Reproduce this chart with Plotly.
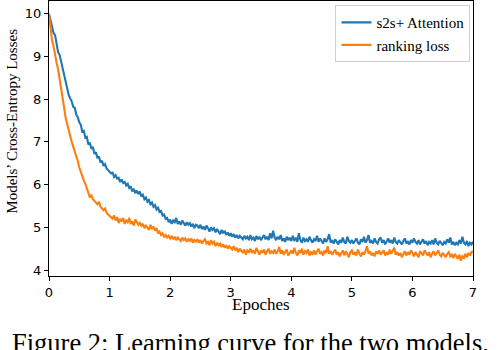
import plotly.graph_objects as go

s2s_attention = [
    10.00, 9.86, 9.74, 9.55, 9.50, 9.28, 9.10, 9.04, 8.88, 8.72,
    8.58, 8.42, 8.30, 8.10, 8.02, 7.95, 7.82, 7.80, 7.64, 7.58,
    7.46, 7.40, 7.24, 7.26, 7.10, 7.12, 6.94, 6.98, 6.84, 6.88,
    6.72, 6.76, 6.62, 6.66, 6.52, 6.56, 6.44, 6.48, 6.38, 6.34,
    6.32, 6.26, 6.28, 6.18, 6.22, 6.14, 6.16, 6.06, 6.12, 6.04,
    6.06, 5.98, 6.02, 5.92, 5.96, 5.84, 5.90, 5.80, 5.86, 5.78,
    5.84, 5.72, 5.76, 5.66, 5.70, 5.60, 5.64, 5.54, 5.58, 5.48,
    5.52, 5.42, 5.46, 5.36, 5.38, 5.28, 5.30, 5.20, 5.22, 5.12,
    5.18, 5.08, 5.16, 5.12, 5.22, 5.08, 5.14, 5.06, 5.16, 5.10,
    5.04, 5.12, 5.06, 5.10, 5.02, 5.08, 4.98, 5.06, 5.04, 4.98,
    5.06, 4.96, 5.02, 4.94, 5.04, 4.98, 4.90, 5.00, 4.94, 4.98,
    4.88, 4.96, 4.90, 4.84, 4.94, 4.86, 4.92, 4.82, 4.88, 4.80,
    4.86, 4.78, 4.84, 4.76, 4.82, 4.74, 4.80, 4.76, 4.72, 4.80,
    4.74, 4.78, 4.70, 4.82, 4.72, 4.76, 4.68, 4.80, 4.72, 4.78,
    4.70, 4.76, 4.82, 4.72, 4.78, 4.70, 4.86, 4.74, 4.92, 4.76,
    4.70, 4.78, 4.72, 4.82, 4.68, 4.74, 4.66, 4.78, 4.70, 4.76,
    4.68, 4.80, 4.70, 4.74, 4.66, 4.86, 4.70, 4.64, 4.76, 4.68,
    4.72, 4.66, 4.78, 4.70, 4.64, 4.72, 4.68, 4.80, 4.66, 4.74,
    4.68, 4.62, 4.74, 4.66, 4.72, 4.84, 4.64, 4.70, 4.62, 4.72,
    4.66, 4.60, 4.70, 4.64, 4.76, 4.66, 4.62, 4.78, 4.68, 4.64,
    4.70, 4.62, 4.68, 4.74, 4.64, 4.60, 4.72, 4.66, 4.78, 4.64,
    4.70, 4.82, 4.64, 4.68, 4.62, 4.74, 4.66, 4.62, 4.72, 4.76,
    4.64, 4.70, 4.60, 4.68, 4.74, 4.64, 4.70, 4.62, 4.76, 4.66,
    4.62, 4.70, 4.66, 4.60, 4.68, 4.74, 4.62, 4.66, 4.60, 4.70,
    4.64, 4.74, 4.66, 4.62, 4.70, 4.60, 4.66, 4.72, 4.62, 4.68,
    4.58, 4.66, 4.62, 4.70, 4.60, 4.74, 4.64, 4.60, 4.68, 4.62,
    4.58, 4.66, 4.62, 4.72, 4.64, 4.76, 4.60, 4.66, 4.58, 4.64,
    4.60, 4.70, 4.62, 4.78, 4.64, 4.60, 4.68, 4.56, 4.64, 4.60,
    4.66,
]
ranking_loss = [
    10.00, 9.70, 9.38, 9.24, 9.02, 8.86, 8.70, 8.50, 8.26, 8.04,
    7.80, 7.56, 7.40, 7.22, 7.14, 7.00, 6.86, 6.78, 6.66, 6.56,
    6.40, 6.28, 6.20, 6.10, 6.02, 5.90, 5.80, 5.70, 5.76, 5.66,
    5.62, 5.58, 5.54, 5.60, 5.48, 5.44, 5.40, 5.44, 5.34, 5.30,
    5.26, 5.22, 5.20, 5.28, 5.16, 5.24, 5.10, 5.20, 5.14, 5.22,
    5.08, 5.16, 5.12, 5.22, 5.08, 5.14, 5.04, 5.18, 5.10, 5.06,
    5.12, 5.02, 5.08, 4.98, 5.04, 5.00, 4.94, 5.06, 4.96, 5.02,
    4.92, 4.98, 4.86, 4.90, 4.82, 4.86, 4.78, 4.82, 4.76, 4.80,
    4.74, 4.80, 4.72, 4.78, 4.70, 4.76, 4.72, 4.68, 4.76, 4.70,
    4.74, 4.66, 4.72, 4.68, 4.74, 4.64, 4.70, 4.66, 4.72, 4.64,
    4.70, 4.62, 4.68, 4.72, 4.62, 4.66, 4.58, 4.70, 4.62, 4.66,
    4.56, 4.64, 4.58, 4.62, 4.54, 4.60, 4.52, 4.58, 4.50, 4.56,
    4.52, 4.48, 4.56, 4.46, 4.52, 4.42, 4.50, 4.46, 4.40, 4.48,
    4.36, 4.46, 4.42, 4.50, 4.40, 4.46, 4.38, 4.52, 4.42, 4.36,
    4.46, 4.40, 4.48, 4.36, 4.44, 4.50, 4.38, 4.44, 4.40, 4.48,
    4.38, 4.44, 4.54, 4.38, 4.46, 4.36, 4.42, 4.48, 4.34, 4.42,
    4.46, 4.38, 4.52, 4.40, 4.34, 4.46, 4.40, 4.50, 4.36, 4.44,
    4.40, 4.48, 4.34, 4.42, 4.38, 4.46, 4.36, 4.44, 4.50, 4.38,
    4.42, 4.34, 4.46, 4.40, 4.56, 4.38, 4.44, 4.36, 4.42, 4.48,
    4.36, 4.42, 4.32, 4.40, 4.46, 4.34, 4.44, 4.38, 4.30, 4.42,
    4.46, 4.36, 4.42, 4.34, 4.48, 4.38, 4.32, 4.42, 4.36, 4.44,
    4.56, 4.38, 4.44, 4.34, 4.40, 4.32, 4.44, 4.38, 4.46, 4.36,
    4.40, 4.46, 4.34, 4.42, 4.36, 4.48, 4.38, 4.44, 4.52, 4.36,
    4.42, 4.34, 4.40, 4.30, 4.38, 4.44, 4.34, 4.42, 4.36, 4.46,
    4.40, 4.32, 4.42, 4.36, 4.30, 4.44, 4.38, 4.34, 4.46, 4.38,
    4.34, 4.42, 4.30, 4.38, 4.44, 4.34, 4.40, 4.46, 4.36, 4.32,
    4.40, 4.34, 4.30, 4.38, 4.42, 4.32, 4.36, 4.28, 4.38, 4.32,
    4.26, 4.36, 4.22, 4.32, 4.28, 4.38, 4.30, 4.40, 4.34, 4.42,
    4.44,
]
epoch_step = 0.025
epochs = [i * epoch_step for i in range(len(s2s_attention))]

x_ticks = [0, 1, 2, 3, 4, 5, 6, 7]
y_ticks = [4, 5, 6, 7, 8, 9, 10]

series_names = ["s2s+ Attention", "ranking loss"]
x_title = "Epoches"
y_title = "Models\u2019 Cross-Entropy Losses"
caption = "Figure 2: Learning curve for the two models."

serif = "Liberation Serif, Times New Roman, serif"
sans = "DejaVu Sans, sans-serif"

fig = go.Figure()
fig.add_trace(go.Scatter(x=epochs, y=s2s_attention, mode="lines", name=series_names[0],
                         line=dict(color="#1f77b4", width=2.1)))
fig.add_trace(go.Scatter(x=epochs, y=ranking_loss, mode="lines", name=series_names[1],
                         line=dict(color="#ff7f0e", width=2.1)))

axis_common = dict(showgrid=False, zeroline=False, showline=True, linecolor="black",
                   linewidth=1, mirror=True, ticks="outside", ticklen=4, tickwidth=1,
                   tickcolor="black", tickfont=dict(family=sans, size=13, color="black"))

fig.update_layout(
    width=498, height=350,
    margin=dict(l=49, r=25, t=1, b=74),
    paper_bgcolor="white", plot_bgcolor="white",
    xaxis=dict(range=[0, 7], tickvals=x_ticks, **axis_common),
    yaxis=dict(range=[3.86, 10.30], tickvals=y_ticks, **axis_common),
    showlegend=True,
    legend=dict(x=0.994, y=0.985, xanchor="right", yanchor="top",
                bgcolor="white", bordercolor="#d0d0d0", borderwidth=1,
                font=dict(family=serif, size=15, color="black"),
                tracegroupgap=0, itemwidth=30),
    annotations=[
        dict(text=x_title, xref="paper", yref="paper", x=0.5, y=-0.104,
             xanchor="center", yanchor="middle", showarrow=False,
             font=dict(family=serif, size=17, color="black")),
        dict(text=y_title, xref="paper", yref="paper", x=-0.086, y=0.563,
             xanchor="center", yanchor="middle", showarrow=False, textangle=-90,
             font=dict(family=serif, size=15, color="black")),
        dict(text=caption, xref="paper", yref="paper", x=-0.093, y=-0.243,
             xanchor="left", yanchor="middle", showarrow=False,
             font=dict(family=serif, size=26.5, color="black")),
    ],
)

fig.write_html("out.html", config={"displayModeBar": False},
               post_script="document.body.style.margin='0px';")
